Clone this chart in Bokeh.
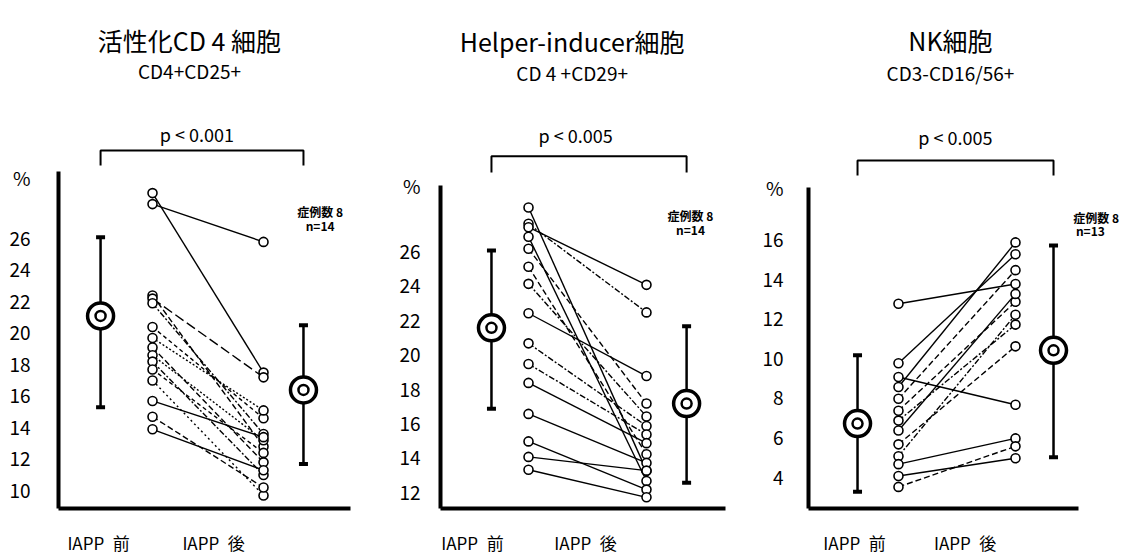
from bokeh.plotting import figure
from bokeh.layouts import row
from bokeh.models import Range1d, FixedTicker, CustomJSTickFormatter
from bokeh.core.properties import value
from bokeh.embed import file_html
from bokeh.resources import INLINE

# ---------------- data ----------------
x_labels = ["IAPP\u2002前", "IAPP\u2002後"]
unit_label = "%"
titles = ["活性化CD 4 細胞", "Helper-inducer細胞", "NK細胞"]
subtitles = ["CD4+CD25+", "CD 4 +CD29+", "CD3-CD16/56+"]
p_texts = ["p < 0.001", "p < 0.005", "p < 0.005"]
case_texts = ["症例数 8", "症例数 8", "症例数 8"]
n_texts = ["n=14", "n=14", "n=13"]

cd25_ticks = [10, 12, 14, 16, 18, 20, 22, 24, 26]
cd25_before = [28.8, 28.1, 22.3, 22.1, 21.8, 20.3, 19.6, 19.0, 18.5, 18.1, 17.6, 16.9, 15.6, 14.6, 13.8]
cd25_after = [17.4, 25.7, 12.7, 17.1, 13.5, 14.5, 15.0, 11.7, 13.1, 10.9, 12.3, 9.6, 13.3, 10.1, 11.2]
cd25_mean = [21.0, 16.3]
cd25_upper = [26.0, 20.4]
cd25_lower = [15.2, 11.6]

cd29_ticks = [12, 14, 16, 18, 20, 22, 24, 26]
cd29_before = [28.5, 27.55, 27.35, 26.8, 26.1, 25.05, 24.06, 22.35, 20.6, 19.4, 18.3, 16.5, 14.9, 14.0, 13.25]
cd29_after = [13.2, 22.4, 24.0, 12.6, 17.1, 14.15, 16.35, 18.7, 15.8, 15.3, 14.8, 13.65, 12.1, 13.2, 11.65]
cd29_mean = [21.5, 17.1]
cd29_upper = [26.0, 21.6]
cd29_lower = [16.8, 12.5]

nk_ticks = [4, 6, 8, 10, 12, 14, 16]
nk_before = [12.7, 9.7, 9.0, 8.5, 7.9, 7.3, 6.8, 6.3, 5.6, 5.0, 4.6, 4.0, 3.45]
nk_after = [13.7, 15.2, 7.6, 15.8, 14.4, 12.8, 11.65, 13.2, 10.55, 12.15, 5.9, 4.9, 5.5]
nk_mean = [6.65, 10.35]
nk_upper = [10.1, 15.65]
nk_lower = [3.2, 4.95]

# line styles (style only)
S, D, DD, DT = "solid", "6 3", "6 2 2 2", "2 2"
cd25_styles = [S, S, D, "10 4", DD, "4 3", DT, D, DT, DD, "4 3", "2 3", S, D, S]
cd29_styles = [S, DD, S, S, D, D, DD, S, DD, DD, S, S, S, S, S]
nk_styles = [S, S, S, S, D, D, DD, S, D, DD, S, S, D]

JP = "Noto Sans CJK JP"

# ---------------- layout per panel ----------------
layouts = [
    dict(width=385, bl=58, xr=(0.153, 3.099), yr=(8.77, 41.03), ytop=30.2, xend=2.784,
         mx=(0.532, 2.36), lx=(0.514, 1.55), tx=1.333, ty=38.49, sy=36.58, px=1.40, py=32.58,
         bt=31.5, bbm=30.55, cx=2.51, calign="center", nx=2.51, cy=27.63, ny=26.74, pct=29.8, yso=22),
    dict(width=370, bl=55, xr=(0.254, 2.924), yr=(11.0, 40.53), ytop=29.78, xend=2.67,
         mx=(0.686, 2.34), lx=(0.525, 1.483), tx=1.37, ty=38.2, sy=36.35, px=1.40, py=32.69,
         bt=31.47, bbm=30.53, cx=2.373, calign="center", nx=2.373, cy=28.03, ny=27.22, pct=29.78, yso=14),
    dict(width=366, bl=53, xr=(0.231, 2.906), yr=(2.36, 28.02), ytop=18.58, xend=2.538,
         mx=(0.65, 2.325), lx=(0.624, 1.57), tx=1.444, ty=26.0, sy=24.38, px=1.487, py=21.1,
         bt=19.94, bbm=19.18, cx=2.885, calign="right", nx=2.64, cy=17.06, ny=16.4, pct=18.58, yso=19),
]

panels = [
    (cd25_ticks, cd25_before, cd25_after, cd25_mean, cd25_upper, cd25_lower, cd25_styles),
    (cd29_ticks, cd29_before, cd29_after, cd29_mean, cd29_upper, cd29_lower, cd29_styles),
    (nk_ticks, nk_before, nk_after, nk_mean, nk_upper, nk_lower, nk_styles),
]

figs = []
for i, (L, (ticks, before, after, mean, upper, lower, styles)) in enumerate(zip(layouts, panels)):
    p = figure(width=L["width"], height=559, output_backend="svg", toolbar_location=None,
               x_range=Range1d(*L["xr"]), y_range=Range1d(*L["yr"]),
               min_border_left=L["bl"], min_border_bottom=51, min_border_top=0, min_border_right=0)
    p.outline_line_color = None
    p.xgrid.visible = False
    p.ygrid.visible = False
    p.background_fill_color = "white"

    # y axis (the unit label "%" sits at the top of the axis as an extra tick label)
    p.yaxis.ticker = FixedTicker(ticks=ticks + [L["pct"]])
    p.yaxis.formatter = CustomJSTickFormatter(
        args=dict(pct=L["pct"], unit=unit_label),
        code="return Math.abs(tick - pct) < 1e-6 ? unit : String(tick);")
    p.yaxis.bounds = (L["yr"][0], L["ytop"])
    p.yaxis.axis_line_width = 4
    p.yaxis.major_tick_line_color = None
    p.yaxis.minor_tick_line_color = None
    p.yaxis.major_label_text_font = JP
    p.yaxis.major_label_text_font_size = "19px"
    p.yaxis.major_label_text_color = "black"
    p.yaxis.major_label_standoff = L["yso"]

    # x axis
    p.xaxis.ticker = FixedTicker(ticks=list(L["lx"]))
    p.xaxis.formatter = CustomJSTickFormatter(args=dict(labels=x_labels), code="return labels[index];")
    p.xaxis.bounds = (L["xr"][0], L["xend"])
    p.xaxis.axis_line_width = 4
    p.xaxis.major_tick_line_color = None
    p.xaxis.minor_tick_line_color = None
    p.xaxis.major_label_text_font = JP
    p.xaxis.major_label_text_font_size = "17px"
    p.xaxis.major_label_text_color = "black"
    p.xaxis.major_label_standoff = 15

    # connecting lines
    n = len(before)
    for j in range(n):
        p.segment(x0=[1], y0=[before[j]], x1=[2], y1=[after[j]], line_color="black",
                  line_width=1.4, line_dash=styles[j])
    p.scatter(x=[1] * n, y=before, size=9, marker="circle", fill_color="white",
              line_color="black", line_width=1.6)
    p.scatter(x=[2] * n, y=after, size=9, marker="circle", fill_color="white",
              line_color="black", line_width=1.6)

    # mean +/- SD markers
    mx = list(L["mx"])
    p.segment(x0=mx, y0=lower, x1=mx, y1=upper, line_color="black", line_width=2.5)
    p.scatter(x=mx + mx, y=lower + upper, marker="dash", size=9, line_width=4, line_color="black")
    p.scatter(x=mx, y=mean, marker="circle", size=26, fill_color="white", line_color="black", line_width=3.5)
    p.scatter(x=mx, y=mean, marker="circle", size=10, fill_color="white", line_color="black", line_width=2.5)

    # bracket
    p.line(x=[mx[0], mx[0], mx[1], mx[1]], y=[L["bbm"], L["bt"], L["bt"], L["bbm"]],
           line_color="black", line_width=2)

    # texts
    p.text(x=[L["tx"]], y=[L["ty"]], text=[titles[i]], text_font=value(JP), text_font_size="25px",
           text_align="center", text_baseline="middle", text_color="black")
    p.text(x=[L["tx"]], y=[L["sy"]], text=[subtitles[i]], text_font=value(JP), text_font_size="19px",
           text_align="center", text_baseline="middle", text_color="black")
    p.text(x=[L["px"]], y=[L["py"]], text=[p_texts[i]], text_font=value(JP), text_font_size="18px",
           text_align="center", text_baseline="middle", text_color="black")
    p.text(x=[L["cx"]], y=[L["cy"]], text=[case_texts[i]], text_font=value(JP), text_font_size="12px",
           text_font_style="bold", text_align=L["calign"], text_baseline="middle", text_color="black")
    p.text(x=[L["nx"]], y=[L["ny"]], text=[n_texts[i]], text_font=value(JP), text_font_size="12px",
           text_font_style="bold", text_align="center", text_baseline="middle", text_color="black")
    figs.append(p)

layout = row(*figs, spacing=0)
open("out.html", "w").write(file_html(layout, INLINE))
